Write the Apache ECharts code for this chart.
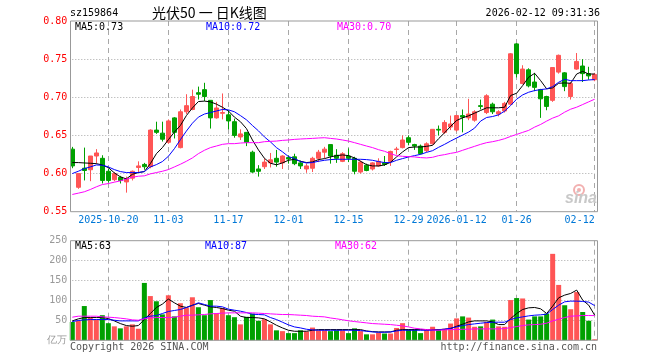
<!DOCTYPE html>
<html><head><meta charset="utf-8">
<script src="https://cdn.jsdelivr.net/npm/echarts@6/dist/echarts.min.js"></script>
<style>html,body{margin:0;padding:0;background:#fff}#c{width:660px;height:360px}</style>
</head><body><div id="c"></div>
<script>
const dates = ['2025-10-10',
'2025-10-13','2025-10-14','2025-10-15','2025-10-16','2025-10-17',
'2025-10-20','2025-10-21','2025-10-22','2025-10-23','2025-10-24',
'2025-10-27','2025-10-28','2025-10-29','2025-10-30','2025-10-31',
'2025-11-03','2025-11-04','2025-11-05','2025-11-06','2025-11-07',
'2025-11-10','2025-11-11','2025-11-12','2025-11-13','2025-11-14',
'2025-11-17','2025-11-18','2025-11-19','2025-11-20','2025-11-21',
'2025-11-24','2025-11-25','2025-11-26','2025-11-27','2025-11-28',
'2025-12-01','2025-12-02','2025-12-03','2025-12-04','2025-12-05',
'2025-12-08','2025-12-09','2025-12-10','2025-12-11','2025-12-12',
'2025-12-15','2025-12-16','2025-12-17','2025-12-18','2025-12-19',
'2025-12-22','2025-12-23','2025-12-24','2025-12-25','2025-12-26',
'2025-12-29','2025-12-30','2025-12-31',
'2026-01-05','2026-01-06','2026-01-07','2026-01-08','2026-01-09',
'2026-01-12','2026-01-13','2026-01-14','2026-01-15','2026-01-16',
'2026-01-19','2026-01-20','2026-01-21','2026-01-22','2026-01-23',
'2026-01-26','2026-01-27','2026-01-28','2026-01-29','2026-01-30',
'2026-02-02','2026-02-03','2026-02-04','2026-02-05','2026-02-06',
'2026-02-09','2026-02-10','2026-02-11','2026-02-12'];

const opens  = [0.632,0.582,0.607,0.605,0.623,0.620,0.603,0.592,0.595,0.589,
0.594,0.608,0.612,0.609,0.657,0.653,0.641,0.673,0.634,0.681,
0.684,0.706,0.710,0.696,0.673,0.679,0.677,0.668,0.648,0.654,
0.628,0.606,0.609,0.614,0.620,0.614,0.621,0.622,0.614,0.606,
0.607,0.620,0.628,0.638,0.624,0.616,0.623,0.620,0.602,0.611,
0.606,0.610,0.614,0.616,0.6315,0.634,0.647,0.638,0.636,0.630,
0.639,0.658,0.654,0.661,0.657,0.676,0.673,0.670,0.689,0.680,
0.691,0.678,0.682,0.691,0.770,0.718,0.736,0.720,0.710,0.701,
0.696,0.733,0.732,0.701,0.737,0.741,0.731,0.723];
const closes = [0.610,0.600,0.604,0.623,0.627,0.591,0.591,0.600,0.591,0.593,
0.603,0.610,0.609,0.657,0.654,0.645,0.669,0.654,0.681,0.689,
0.701,0.704,0.701,0.673,0.686,0.680,0.669,0.650,0.652,0.641,
0.602,0.603,0.615,0.618,0.615,0.623,0.619,0.613,0.610,0.610,
0.620,0.628,0.632,0.623,0.620,0.626,0.620,0.603,0.615,0.604,
0.614,0.616,0.612,0.629,0.6322,0.644,0.641,0.636,0.626,0.639,
0.658,0.657,0.667,0.665,0.676,0.674,0.678,0.681,0.688,0.702,
0.681,0.681,0.692,0.757,0.731,0.737,0.715,0.713,0.698,0.688,
0.739,0.755,0.714,0.718,0.747,0.731,0.728,0.730];
const lows   = [0.607,0.580,0.591,0.590,0.613,0.587,0.588,0.590,0.587,0.575,
0.591,0.601,0.605,0.607,0.652,0.642,0.639,0.646,0.633,0.678,
0.683,0.697,0.695,0.659,0.672,0.671,0.658,0.647,0.644,0.636,
0.601,0.596,0.606,0.608,0.609,0.606,0.613,0.611,0.606,0.601,
0.602,0.615,0.620,0.613,0.614,0.615,0.615,0.599,0.600,0.603,
0.604,0.609,0.610,0.610,0.625,0.633,0.637,0.631,0.625,0.628,
0.638,0.650,0.652,0.657,0.655,0.654,0.670,0.668,0.684,0.678,
0.678,0.675,0.680,0.690,0.726,0.717,0.713,0.708,0.673,0.683,
0.694,0.731,0.708,0.697,0.736,0.720,0.723,0.721];
const highs  = [0.635,0.600,0.634,0.623,0.632,0.624,0.606,0.602,0.597,0.596,
0.604,0.616,0.614,0.658,0.668,0.668,0.671,0.674,0.684,0.704,
0.710,0.714,0.719,0.696,0.694,0.705,0.683,0.672,0.658,0.654,
0.630,0.611,0.620,0.627,0.631,0.624,0.624,0.626,0.617,0.613,
0.622,0.631,0.635,0.638,0.632,0.628,0.633,0.622,0.617,0.613,
0.615,0.620,0.623,0.630,0.635,0.650,0.650,0.639,0.638,0.641,
0.658,0.663,0.670,0.676,0.677,0.684,0.698,0.683,0.697,0.704,
0.693,0.683,0.694,0.758,0.771,0.742,0.738,0.732,0.711,0.702,
0.739,0.756,0.733,0.720,0.758,0.750,0.740,0.732];

const ma5  = [0.6144,0.6144,0.6139,0.6135,0.6130,0.6113,0.6078,0.6009,0.5957,0.5930,
0.5990,0.6013,0.6026,0.6130,0.6260,0.6340,0.6444,0.6544,0.6630,0.6760,
0.6860,0.6944,0.6950,0.6940,0.6910,0.6870,0.6820,0.6740,0.6680,0.6590,
0.6440,0.6310,0.6200,0.6135,0.6115,0.6140,0.6174,0.6187,0.6161,0.6144,
0.6152,0.6183,0.6196,0.6218,0.6235,0.6244,0.6235,0.6205,0.6161,0.6117,
0.6100,0.6100,0.6113,0.6148,0.6218,0.6283,0.6340,0.6348,0.6348,0.6357,
0.6370,0.6457,0.6535,0.6618,0.6696,0.6731,0.6757,0.6792,0.6827,0.6862,
0.6862,0.6862,0.6870,0.7023,0.7053,0.7153,0.7262,0.7314,0.7218,0.7110,
0.7123,0.7184,0.7188,0.7184,0.7305,0.7340,0.7305,0.7305];
const ma10 = [0.6000,0.6030,0.6065,0.6087,0.6113,0.6109,0.6087,0.6052,0.6026,0.6013,
0.6013,0.6013,0.6026,0.6087,0.6117,0.6157,0.6226,0.6326,0.6444,0.6557,
0.6660,0.6740,0.6780,0.6800,0.6820,0.6840,0.6835,0.6810,0.6760,0.6705,
0.6630,0.6560,0.6480,0.6415,0.6340,0.6285,0.6223,0.6196,0.6157,0.6139,
0.6144,0.6161,0.6174,0.6183,0.6187,0.6187,0.6187,0.6187,0.6187,0.6183,
0.6174,0.6157,0.6144,0.6144,0.6174,0.6196,0.6218,0.6235,0.6252,0.6278,
0.6300,0.6344,0.6383,0.6426,0.6466,0.6505,0.6544,0.6596,0.6688,0.6735,
0.6748,0.6770,0.6818,0.6892,0.6975,0.7031,0.7066,0.7088,0.7101,0.7110,
0.7140,0.7197,0.7236,0.7218,0.7218,0.7218,0.7227,0.7232];
const ma30 = [0.5726,0.5743,0.5761,0.5791,0.5826,0.5856,0.5869,0.5887,0.5904,0.5926,
0.5952,0.5965,0.5970,0.5996,0.6013,0.6030,0.6052,0.6087,0.6122,0.6161,
0.6205,0.6261,0.6305,0.6340,0.6361,0.6383,0.6392,0.6392,0.6400,0.6405,
0.6405,0.6405,0.6418,0.6422,0.6426,0.6435,0.6440,0.6448,0.6453,0.6457,
0.6461,0.6466,0.6470,0.6461,0.6453,0.6440,0.6426,0.6405,0.6383,0.6361,
0.6340,0.6313,0.6292,0.6261,0.6235,0.6226,0.6222,0.6218,0.6209,0.6205,
0.6213,0.6235,0.6248,0.6265,0.6278,0.6305,0.6331,0.6357,0.6383,0.6405,
0.6418,0.6435,0.6457,0.6487,0.6513,0.6540,0.6566,0.6609,0.6644,0.6688,
0.6727,0.6757,0.6805,0.6844,0.6870,0.6905,0.6940,0.6975];

const volumes = [46,49,86,57,52,63,43,35,30,35,
40,29,144,111,98,65,113,60,93,82,
108,83,63,101,68,81,63,58,40,59,
67,49,53,40,25,23,18,18,25,22,
32,25,25,23,25,25,18,30,23,15,
15,19,17,17,31,43,27,27,18,27,
34,27,29,42,55,60,57,34,35,46,
52,35,34,101,106,105,52,60,60,67,
217,139,88,78,121,71,49,2.5];
const vma5 = [48.7,53.8,57.1,57.1,57.1,57.1,54.6,48.7,42,37,
35.3,37,52.1,67.2,82.4,90.8,103.4,94.1,85.7,82.4,
88.2,92.4,88.2,84,82.4,79.8,75.6,73.1,60.5,57.1,
57.1,56.3,53.8,46.2,37.8,31.1,25.2,22.7,22.7,22.7,
25.2,26.9,26.9,26.9,26.9,26.9,26.9,26.9,26.9,23.5,
21.8,21,21,21,25.2,26.9,26.9,26.9,26.9,26.9,
26.9,26.9,27.7,29.4,35.3,40.3,46.2,48.7,48.7,48.7,
46.2,39.5,39.5,54.6,67.2,77.3,81.5,82.4,79,67.2,
85.7,106.7,113.4,117.6,126,100.8,88.2,63];
const vma10 = [47.1,49.6,51.3,52.1,52.1,52.1,52.1,50.4,48.7,48.7,
48.7,48.7,56.3,60.5,62.2,67.2,72.3,74.8,77.3,82.4,
87.4,94.1,89.9,85.7,85.7,84,78.2,75.6,73.1,69.7,
65.5,64.7,63.9,57.1,52.1,45.4,38.7,33.6,31.1,27.7,
26.1,25.2,25.2,25.2,25.2,25.2,25.2,25.2,24.4,22.7,
21,20.2,20.2,21,23.5,25.2,25.2,25.2,25.2,25.2,
25.2,26.1,27.7,30.3,33.6,37,39.5,41.2,42.9,44.5,
45.4,45.4,45.4,52.1,56.3,58.8,61.3,63,63.9,65.5,
77.3,88.2,96.6,98.3,98.3,97.5,95.8,87];
const vma30 = [58,60.5,60.5,60.5,60.5,58.8,58,57.1,55.5,53.8,
51.3,50.4,53.8,56.3,57.1,57.1,57.1,58,60.5,63,
63,63.9,64.7,66.4,67.2,68.1,68.9,68.9,68.9,68.9,
68.9,68.1,67.2,66.4,65.5,64.7,64.7,63.9,63,62.2,
60.5,59.7,58.8,56,54,51.5,49,47,45.4,43.7,
42,41.2,40.3,39.5,37.8,36.1,33.6,30.3,28.6,26.9,
26.1,25.2,26.1,26.9,26.9,27.7,27.7,28.6,28.6,28.6,
28.6,28.6,29.4,31.9,34.5,37,38.7,39.5,40.3,42.9,
48.7,52.9,57.1,60.5,61.3,62.2,62.2,62];

const tickDates  = ['2025-10-20','2025-11-03','2025-11-17','2025-12-01','2025-12-15','2025-12-29','2026-01-12','2026-01-26','2026-02-12'];
const tickLabels = ['2025-10-20','11-03','11-17','12-01','12-15','12-29','2026-01-12','01-26','02-12'];
const priceMin = 0.55, priceMax = 0.80, priceStep = 0.05;
const volMin = 0, volMax = 250, volStep = 50;
const volUnit = '亿万';
const code = 'sz159864';
const title = '光伏50 一 日K线图';
const stamp = '2026-02-12 09:31:36';

const RED = '#ff5555', GREEN = '#00a000', BLUE = '#0000ff', MAG = '#ff00ff', BLACK = '#000000';
const MONO = '"DejaVu Sans Mono", monospace';
const GRIDC = '#a8a8a8';

const labelMap = {};
tickDates.forEach((d, i) => { labelMap[d] = tickLabels[i]; });
const isTick = (idx, val) => labelMap[val] !== undefined;

const kData = dates.map((d, i) => [opens[i], closes[i], lows[i], highs[i]]);
const volData = volumes.map((v, i) => ({ value: v, itemStyle: { color: closes[i] >= opens[i] ? RED : GREEN } }));

const L = 72.3, R = 65.3;
const xBase = (gi, showLabel) => ({
  type: 'category', gridIndex: gi, data: dates, boundaryGap: false,
  axisLine: { show: false }, axisTick: { show: false },
  axisLabel: {
    show: showLabel, interval: isTick, color: '#0078d7', fontFamily: 'DejaVu Sans Mono', fontSize: 10, margin: 4,
    formatter: v => labelMap[v] || '', alignMaxLabel: 'right'
  },
  splitLine: { show: true, interval: isTick, lineStyle: { color: GRIDC, type: [5, 4], width: 1 } }
});

const lineS = (name, data, color, xi, yi) => ({
  type: 'line', name, data, xAxisIndex: xi, yAxisIndex: yi, showSymbol: false, symbol: 'none',
  lineStyle: { color, width: 1 }, itemStyle: { color }, z: 5, silent: true
});

const txt = (text, x, y, fill, font, align) => ({
  type: 'text', x, y, z: 100, silent: true,
  style: { text, fill, font, align: align || 'left', verticalAlign: 'middle' }
});

const chart = echarts.init(document.getElementById('c'), null, { renderer: 'canvas' });
chart.setOption({
  animation: false,
  backgroundColor: '#ffffff',
  grid: [
    { left: L, right: R, top: 21, height: 190.7 },
    { left: L, right: R, top: 240.7, height: 99.6 },
    { left: 70.5, right: 62.5, top: 21, height: 190.7, show: true, borderColor: '#999', borderWidth: 1, backgroundColor: 'transparent', z: 10 },
    { left: 70.5, right: 62.5, top: 240.7, height: 99.6, show: true, borderColor: '#999', borderWidth: 1, backgroundColor: 'transparent', z: 10 }
  ],
  xAxis: [
    xBase(0, true),
    xBase(1, false),
    { type: 'value', gridIndex: 2, show: false },
    { type: 'value', gridIndex: 3, show: false }
  ],
  yAxis: [
    { type: 'value', gridIndex: 0, min: priceMin, max: priceMax, interval: priceStep,
      axisLine: { show: false }, axisTick: { show: false },
      axisLabel: { color: '#ff0000', fontFamily: 'DejaVu Sans Mono', fontSize: 10, margin: 5, formatter: v => v.toFixed(2) },
      splitLine: { show: true, showMinLine: false, showMaxLine: false, lineStyle: { color: GRIDC, type: [1, 2], width: 1 } } },
    { type: 'value', gridIndex: 1, min: volMin, max: volMax, interval: volStep,
      axisLine: { show: false }, axisTick: { show: false },
      axisLabel: { color: '#999999', fontFamily: 'DejaVu Sans Mono', fontSize: 10, margin: 5, formatter: v => v === 0 ? volUnit : String(v) },
      splitLine: { show: true, showMinLine: false, showMaxLine: false, lineStyle: { color: GRIDC, type: [1, 2], width: 1 } } },
    { type: 'value', gridIndex: 2, show: false },
    { type: 'value', gridIndex: 3, show: false }
  ],
  series: [
    { type: 'candlestick', data: kData, xAxisIndex: 0, yAxisIndex: 0, barWidth: 4,
      itemStyle: { color: RED, color0: GREEN, borderColor: RED, borderColor0: GREEN, borderWidth: 1 }, z: 3, silent: true },
    lineS('MA5', ma5, BLACK, 0, 0),
    lineS('MA10', ma10, BLUE, 0, 0),
    lineS('MA30', ma30, MAG, 0, 0),
    { type: 'bar', data: volData, xAxisIndex: 1, yAxisIndex: 1, barWidth: 5, z: 3, silent: true },
    lineS('VMA5', vma5, BLACK, 1, 1),
    lineS('VMA10', vma10, BLUE, 1, 1),
    lineS('VMA30', vma30, MAG, 1, 1)
  ],
  graphic: [
    txt(code, 70, 13, '#000', '10px ' + MONO),
    txt(title, 152, 13, '#000', '14px "Noto Sans CJK SC"'),
    txt(stamp, 600, 13, '#000', '10px ' + MONO, 'right'),
    txt('MA5:' + ma5[ma5.length - 1].toFixed(2), 75, 27, BLACK, '10px ' + MONO),
    txt('MA10:' + ma10[ma10.length - 1].toFixed(2), 206, 27, BLUE, '10px ' + MONO),
    txt('MA30:' + ma30[ma30.length - 1].toFixed(2), 337, 27, MAG, '10px ' + MONO),
    txt('MA5:' + Math.round(vma5[vma5.length - 1]), 75, 246, BLACK, '10px ' + MONO),
    txt('MA10:' + Math.round(vma10[vma10.length - 1]), 205, 246, BLUE, '10px ' + MONO),
    txt('MA30:' + Math.round(vma30[vma30.length - 1]), 335, 246, MAG, '10px ' + MONO),
    txt('Copyright 2026 SINA.COM', 70, 347, '#555', '10px ' + MONO),
    txt('http://finance.sina.com.cn', 597, 347, '#555', '10px ' + MONO, 'right'),
    { type: 'circle', shape: { cx: 579, cy: 190, r: 5 }, style: { fill: 'none', stroke: '#f2b0b0', lineWidth: 2 }, z: 90, silent: true },
    { type: 'circle', shape: { cx: 579, cy: 190, r: 2 }, style: { fill: '#f2b0b0' }, z: 90, silent: true },
    txt('sina', 581, 199, '#c8c8c8', 'italic bold 16px "Liberation Sans"', 'center')
  ]
});
</script></body></html>
